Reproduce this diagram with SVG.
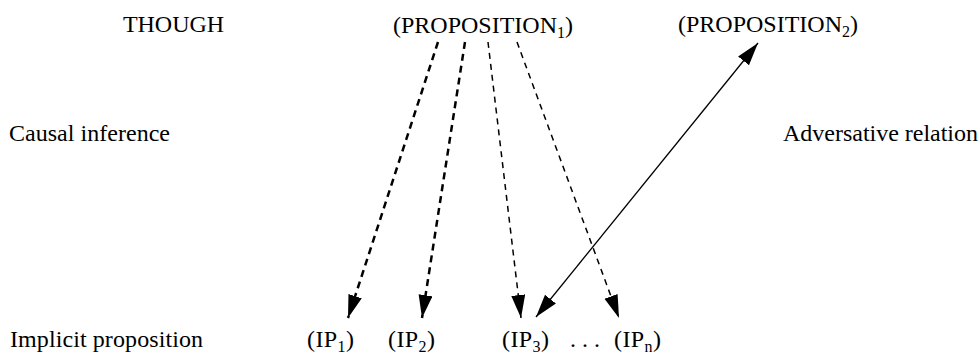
<svg xmlns="http://www.w3.org/2000/svg" width="980" height="360" viewBox="0 0 980 360">
  <style>
    text { font-family: "Liberation Serif", "Times New Roman", serif; font-size: 24px; fill: #000; }
    .sub { font-size: 16px; }
    .ip { letter-spacing: 0.4px; }
    .dash-thick { stroke: #000; stroke-width: 2.5; stroke-dasharray: 7 5; fill: none; }
    .dash-thin { stroke: #000; stroke-width: 1.5; stroke-dasharray: 6 5; fill: none; }
    .solid { stroke: #000; stroke-width: 1.3; fill: none; }
  </style>
  <defs>
    <marker id="head" markerUnits="userSpaceOnUse" markerWidth="26" markerHeight="16" refX="23" refY="7" orient="auto-start-reverse">
      <path d="M0,0 L23,7 L0,14 Z" fill="#000" stroke="none"/>
    </marker>
  </defs>
  <rect width="980" height="360" fill="#fff"/>

  <g id="connectors">
    <line class="dash-thick" x1="438" y1="42" x2="348" y2="318" marker-end="url(#head)"/>
    <line class="dash-thick" x1="465" y1="42" x2="422" y2="318" marker-end="url(#head)"/>
    <line class="dash-thin" x1="488" y1="42" x2="521" y2="318" marker-end="url(#head)"/>
    <line class="dash-thin" x1="517" y1="42" x2="619" y2="318" marker-end="url(#head)"/>
    <line class="solid" x1="536" y1="317" x2="758" y2="43" marker-start="url(#head)" marker-end="url(#head)"/>
  </g>

  <g id="though"><text x="123" y="32" textLength="101">THOUGH</text></g>
  <g id="proposition1"><text x="393" y="33">(PROPOSITION<tspan class="sub" dy="5">1</tspan><tspan dy="-5">)</tspan></text></g>
  <g id="proposition2"><text x="678" y="32">(PROPOSITION<tspan class="sub" dy="5">2</tspan><tspan dy="-5">)</tspan></text></g>
  <g id="causal-inference"><text x="9" y="141" textLength="161">Causal inference</text></g>
  <g id="adversative-relation"><text x="783" y="141" textLength="195">Adversative relation</text></g>
  <g id="implicit-proposition"><text x="10" y="347" textLength="193">Implicit proposition</text></g>
  <g id="ip1"><text class="ip" x="307" y="347">(IP<tspan class="sub" dy="5">1</tspan><tspan dy="-5">)</tspan></text></g>
  <g id="ip2"><text class="ip" x="388" y="347">(IP<tspan class="sub" dy="5">2</tspan><tspan dy="-5">)</tspan></text></g>
  <g id="ip3"><text class="ip" x="502" y="347">(IP<tspan class="sub" dy="5">3</tspan><tspan dy="-5">)</tspan></text></g>
  <g id="ellipsis"><text x="570" y="347">. . .</text></g>
  <g id="ipn"><text class="ip" x="614" y="347">(IP<tspan class="sub" dy="5">n</tspan><tspan dy="-5">)</tspan></text></g>
</svg>
